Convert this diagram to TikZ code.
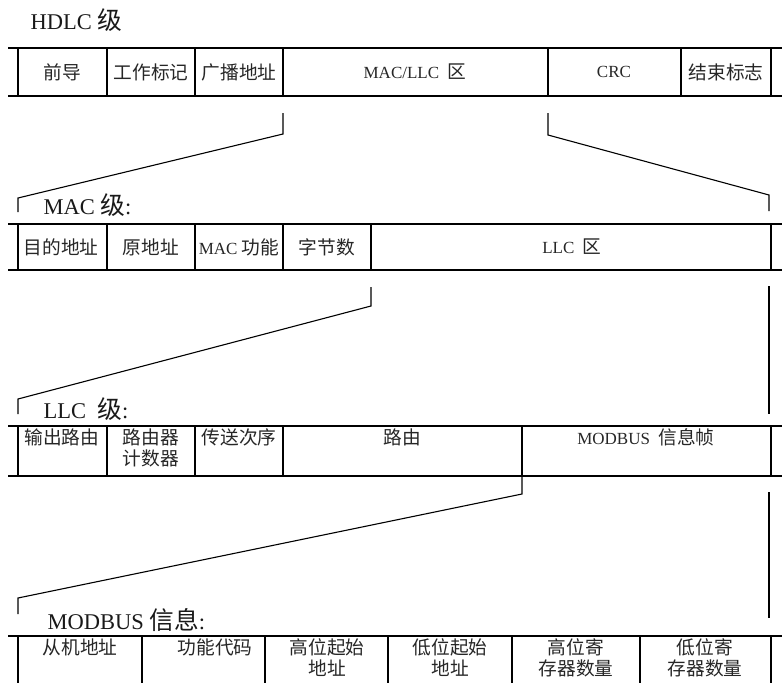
\documentclass[tikz,border=0pt]{standalone}
\usepackage{fontspec}
\setmainfont{Liberation Serif}
\newfontfamily\cjk[Scale=1.1]{Noto Sans CJK SC}
\newcommand{\zh}[1]{{\cjk #1}}
\begin{document}
\begin{tikzpicture}[x=1pt,y=-1pt,line width=1.2pt,
  cell/.style={font=\fontsize{17}{21}\selectfont,inner sep=0pt,align=center,text=black!85},
  lbl/.style={font=\fontsize{22.5}{26}\selectfont,anchor=west,inner sep=0pt,text=black!90},
  conn/.style={line width=1.1pt,line join=miter}]
\useasboundingbox (0,0) rectangle (782,683);

% ---------- HDLC row ----------
\node[lbl] (lh) at (30,20) {HDLC \zh{级}};
\foreach \y in {48,96} \draw (8,\y) -- (782,\y);
\foreach \x in {18,107,195,283,548,681,771} \draw (\x,48) -- (\x,96);
\node[cell] (h1) at (62,72) {\zh{前导}};
\node[cell] (h2) at (151,72) {\zh{工作标记}};
\node[cell] (h3) at (239,72) {\zh{广播地址}};
\node[cell] (h4) at (415,72) {MAC/LLC\ \ \zh{区}};
\node[cell] (h5) at (614,72) {CRC};
\node[cell] (h6) at (726,72) {\zh{结束标志}};

% ---------- connectors HDLC -> MAC ----------
\coordinate (a1) at (283,113);
\coordinate (a2) at (283,134);
\coordinate (a3) at (18,198);
\coordinate (a4) at (18,212);
\draw[conn] (a1) -- (a2) -- (a3) -- (a4);
\coordinate (b1) at (548,113);
\coordinate (b2) at (548,135);
\coordinate (b3) at (769,195);
\coordinate (b4) at (769,211);
\draw[conn] (b1) -- (b2) -- (b3) -- (b4);

% ---------- MAC row ----------
\node[lbl] (lm) at (43,205) {MAC \zh{级}:};
\foreach \y in {224,270} \draw (8,\y) -- (782,\y);
\foreach \x in {18,107,195,283,371,771} \draw (\x,224) -- (\x,270);
\node[cell] (m1) at (61,247) {\zh{目的地址}};
\node[cell] (m2) at (151,247) {\zh{原地址}};
\node[cell] (m3) at (239,247) {MAC \zh{功能}};
\node[cell] (m4) at (327,247) {\zh{字节数}};
\node[cell] (m5) at (572,247) {LLC\ \ \zh{区}};

% ---------- connectors MAC -> LLC ----------
\coordinate (c1) at (371,287);
\coordinate (c2) at (371,306);
\coordinate (c3) at (18,399);
\coordinate (c4) at (18,414);
\draw[conn] (c1) -- (c2) -- (c3) -- (c4);
\coordinate (d1) at (769,286);
\coordinate (d2) at (769,414);
\draw[conn] (d1) -- (d2);

% ---------- LLC row ----------
\node[lbl] (ll) at (43,409) {LLC\ \ \zh{级}:};
\foreach \y in {426,476} \draw (8,\y) -- (782,\y);
\foreach \x in {18,107,195,283,522,771} \draw (\x,426) -- (\x,476);
\node[cell,anchor=north] (l1) at (62,428) {\zh{输出路由}};
\node[cell,anchor=north] (l2) at (151,428) {\zh{路由器}\\\zh{计数器}};
\node[cell,anchor=north] (l3) at (239,428) {\zh{传送次序}};
\node[cell,anchor=north] (l4) at (402,428) {\zh{路由}};
\node[cell,anchor=north] (l5) at (646,428) {MODBUS\ \ \zh{信息帧}};

% ---------- connectors LLC -> MODBUS ----------
\coordinate (e1) at (522,477);
\coordinate (e2) at (522,494);
\coordinate (e3) at (18,598);
\coordinate (e4) at (18,614);
\draw[conn] (e1) -- (e2) -- (e3) -- (e4);
\coordinate (f1) at (769,492);
\coordinate (f2) at (769,618);
\draw[conn] (f1) -- (f2);

% ---------- MODBUS row ----------
\node[lbl] (lb) at (47,620) {MODBUS \zh{信息}:};
\draw (8,636) -- (782,636);
\foreach \x in {18,142,265,388,512,640,771} \draw (\x,636) -- (\x,683);
\node[cell,anchor=north] (o1) at (80,638) {\zh{从机地址}};
\node[cell,anchor=north] (o2) at (215,638) {\zh{功能代码}};
\node[cell,anchor=north] (o3) at (327,638) {\zh{高位起始}\\\zh{地址}};
\node[cell,anchor=north] (o4) at (450,638) {\zh{低位起始}\\\zh{地址}};
\node[cell,anchor=north] (o5) at (576,638) {\zh{高位寄}\\\zh{存器数量}};
\node[cell,anchor=north] (o6) at (705,638) {\zh{低位寄}\\\zh{存器数量}};
\end{tikzpicture}
\end{document}
